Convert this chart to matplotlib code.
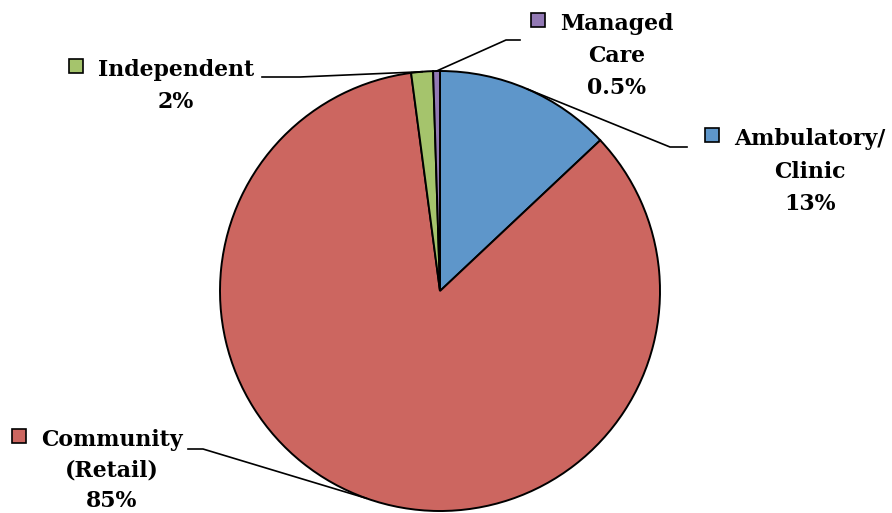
import numpy as np
import matplotlib.pyplot as plt
from matplotlib.patches import Rectangle

labels = ['Ambulatory/\nClinic', 'Community\n(Retail)', 'Independent', 'Managed\nCare']
pct_text = ['13%', '85%', '2%', '0.5%']
values = [13, 85, 1.6, 0.5]
colors = ['#5e96ca', '#cc6660', '#a5c46c', '#9279b4']

W, H = 892, 513
fig = plt.figure(figsize=(W / 100, H / 100), dpi=100)
ax = fig.add_axes([0, 0, 1, 1])

cx, cy, r = 440, H - 291, 220
wedges, _ = ax.pie(values, colors=colors, startangle=90, counterclock=False,
                   center=(cx, cy), radius=r, frame=True,
                   wedgeprops=dict(edgecolor='black', linewidth=1.4))
ax.set_xlim(0, W)
ax.set_ylim(0, H)
ax.set_aspect('equal')
ax.axis('off')

# label block: (text center x, first baseline y from top, line gap,
#               outer end of leader, elbow point)
layout = [
    (810, 145, 32.5, (687, 147), (670, 147)),
    (112, 446, 30.5, (188, 449), (203, 449)),
    (176, 76, 32, (262, 77), (300, 77)),
    (617, 30, 32, (520, 40), (506, 40)),
]

font = dict(family='DejaVu Serif', fontweight='bold', fontsize=15.8)

fig.canvas.draw()
rend = fig.canvas.get_renderer()

for w, lab, pt, col, (tx, by, gap, p0, p1) in zip(wedges, labels, pct_text, colors, layout):
    lines = lab.split('\n') + [pt]
    for i, ln in enumerate(lines):
        t = ax.text(tx, H - (by + i * gap), ln, ha='center', va='baseline', **font)
        if i == 0:
            bb = t.get_window_extent(rend)
            ax.add_patch(Rectangle((bb.x0 - 29, H - by + 3), 14, 14, facecolor=col,
                                   edgecolor='black', lw=1.2))
    # leader line to the wedge mid-angle on the rim
    mid = np.deg2rad((w.theta1 + w.theta2) / 2)
    ex, ey = cx + r * np.cos(mid), cy + r * np.sin(mid)
    ax.plot([p0[0], p1[0], ex], [H - p0[1], H - p1[1], ey], color='black', lw=1.2)

fig.savefig('out.png', dpi=100)
